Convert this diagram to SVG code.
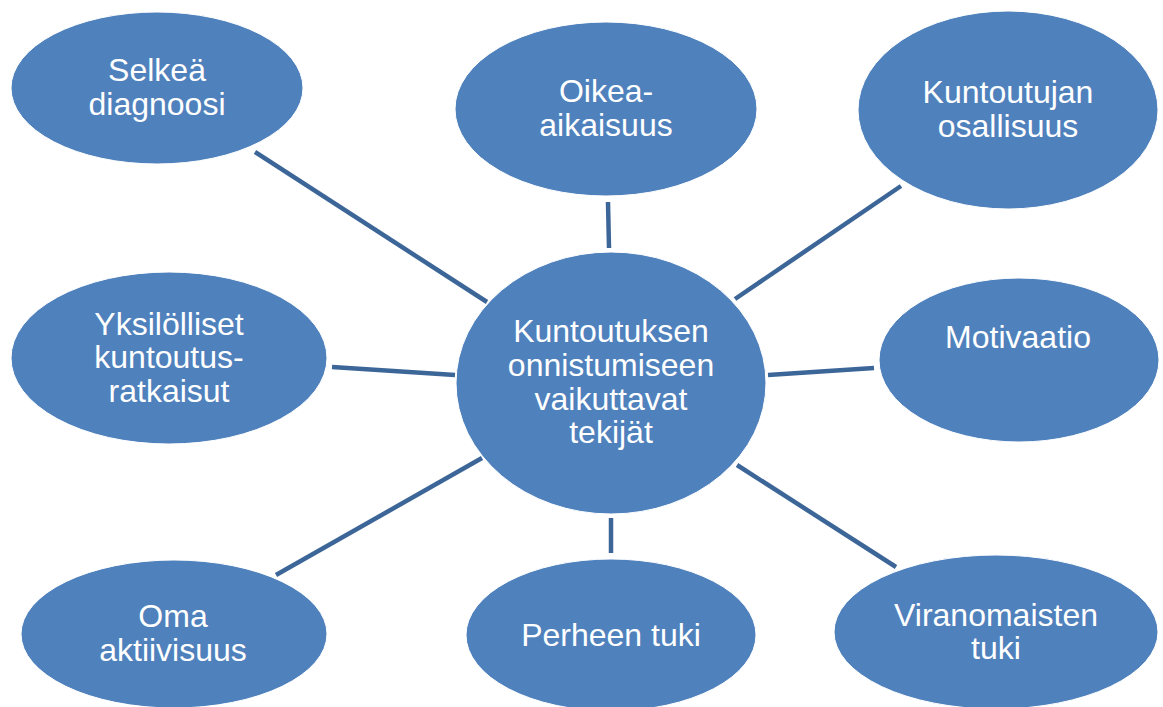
<svg xmlns="http://www.w3.org/2000/svg" width="1163" height="707" viewBox="0 0 1163 707">
<style>
.n{fill:#4F81BD;stroke:#ffffff;stroke-width:1}
.t{font-family:"Liberation Sans",Arial,sans-serif;font-size:32px;fill:#ffffff;text-anchor:middle}
.c{stroke:#3D6698;stroke-width:4.5;fill:none}
</style>
<rect width="1163" height="707" fill="#ffffff"/>
<g id="connectors">
<line class="c" x1="255" y1="152" x2="487" y2="302"/>
<line class="c" x1="608" y1="202" x2="609" y2="248"/>
<line class="c" x1="901" y1="186" x2="735" y2="299"/>
<line class="c" x1="332" y1="367" x2="455" y2="375"/>
<line class="c" x1="768" y1="375" x2="874" y2="368"/>
<line class="c" x1="482" y1="458" x2="276" y2="575"/>
<line class="c" x1="611" y1="518" x2="611" y2="553"/>
<line class="c" x1="737" y1="465" x2="896" y2="567"/>
</g>
<g id="center">
<ellipse class="n" cx="611" cy="383" rx="155" ry="131"/>
<text class="t" x="611" y="342">Kuntoutuksen</text>
<text class="t" x="611" y="376">onnistumiseen</text>
<text class="t" x="611" y="410">vaikuttavat</text>
<text class="t" x="611" y="443">tekijät</text>
</g>
<g id="selkea">
<ellipse class="n" cx="157" cy="88" rx="146" ry="76"/>
<text class="t" x="157" y="81">Selkeä</text>
<text class="t" x="157" y="115">diagnoosi</text>
</g>
<g id="oikea">
<ellipse class="n" cx="606" cy="109" rx="151" ry="87"/>
<text class="t" x="606" y="102">Oikea-</text>
<text class="t" x="606" y="136">aikaisuus</text>
</g>
<g id="kuntoutujan">
<ellipse class="n" cx="1008" cy="110" rx="150" ry="99"/>
<text class="t" x="1008" y="103">Kuntoutujan</text>
<text class="t" x="1008" y="137">osallisuus</text>
</g>
<g id="yksilolliset">
<ellipse class="n" cx="169" cy="358" rx="158" ry="86"/>
<text class="t" x="169" y="335">Yksilölliset</text>
<text class="t" x="169" y="368">kuntoutus-</text>
<text class="t" x="169" y="402">ratkaisut</text>
</g>
<g id="motivaatio">
<ellipse class="n" cx="1019" cy="360" rx="140" ry="82"/>
<text class="t" x="1018" y="348">Motivaatio</text>
</g>
<g id="oma">
<ellipse class="n" cx="174" cy="634" rx="153" ry="74"/>
<text class="t" x="173" y="627">Oma</text>
<text class="t" x="173" y="661">aktiivisuus</text>
</g>
<g id="perheen">
<ellipse class="n" cx="611" cy="635" rx="145" ry="76"/>
<text class="t" x="611" y="646">Perheen tuki</text>
</g>
<g id="viranomaisten">
<ellipse class="n" cx="996" cy="632" rx="162" ry="77"/>
<text class="t" x="996" y="626">Viranomaisten</text>
<text class="t" x="996" y="659">tuki</text>
</g>
</svg>
